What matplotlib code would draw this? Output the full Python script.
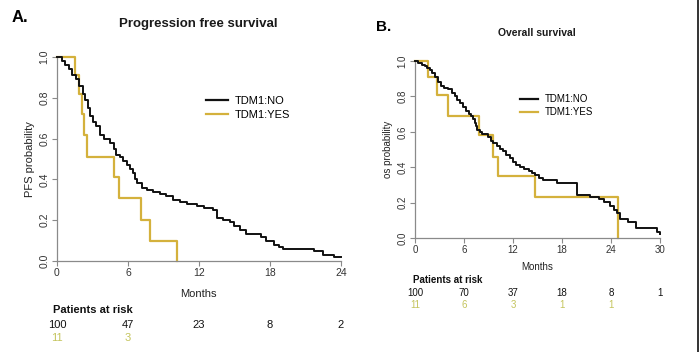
import matplotlib
matplotlib.use("Agg")
import matplotlib.pyplot as plt
import matplotlib.transforms as mtransforms
from matplotlib.lines import Line2D

plt.rcParams['font.family'] = ['Liberation Sans', 'DejaVu Sans']

BLACK = '#111111'
GOLD = '#d4b13c'
RISK_GOLD = '#c4c45c'
AXIS_GREY = '#8a8a8a'

# ---- Panel A: progression free survival ----
pfs_no_t = [0, 0.4, 0.7, 1.0, 1.3, 1.6, 1.9, 2.2, 2.4, 2.6, 2.8, 3.0, 3.3, 3.6, 4.0, 4.5, 4.8,
            5.0, 5.3, 5.6, 5.9, 6.2, 6.4, 6.6, 6.8, 7.2, 7.6, 8.1, 8.7, 9.2, 9.8, 10.4, 11.0,
            11.8, 12.4, 13.2, 13.5, 14.0, 14.6, 15.0, 15.5, 16.0, 17.2, 17.7, 18.3, 18.8, 19.1,
            21.7, 22.5, 23.4, 24.0]
pfs_no_s = [1.0, 0.98, 0.96, 0.94, 0.91, 0.89, 0.86, 0.82, 0.79, 0.75, 0.71, 0.68, 0.66, 0.62,
            0.60, 0.58, 0.55, 0.52, 0.51, 0.49, 0.47, 0.45, 0.43, 0.40, 0.38, 0.36, 0.35, 0.34,
            0.33, 0.32, 0.30, 0.29, 0.28, 0.27, 0.26, 0.25, 0.21, 0.20, 0.19, 0.17, 0.15, 0.13,
            0.12, 0.10, 0.08, 0.07, 0.06, 0.05, 0.03, 0.02, 0.02]
pfs_yes_t = [0, 1.52, 1.89, 2.1, 2.3, 2.54, 4.82, 5.2, 7.1, 7.86, 10.1]
pfs_yes_s = [1.0, 0.91, 0.82, 0.72, 0.62, 0.51, 0.41, 0.31, 0.20, 0.10, 0.0]
pfs_ticks = [0, 6, 12, 18, 24]
pfs_risk_no = ['100', '47', '23', '8', '2']
pfs_risk_yes = ['11', '3', '', '', '']

# ---- Panel B: overall survival ----
os_no_t = [0, 0.4, 0.8, 1.2, 1.5, 1.8, 2.1, 2.45, 2.85, 3.2, 3.5, 4.08, 4.5, 4.9, 5.2, 5.5,
           5.9, 6.3, 6.6, 6.9, 7.1, 7.35, 7.5, 7.63, 7.9, 8.16, 8.98, 9.3, 9.6, 10.0, 10.4,
           10.8, 11.2, 11.6, 12.0, 12.4, 12.85, 13.4, 13.9, 14.3, 14.7, 15.2, 15.7, 17.35,
           19.8, 21.4, 22.5, 23.1, 23.9, 24.4, 24.7, 25.1, 26.1, 27.1, 29.6, 30.0]
os_no_s = [1.0, 0.99, 0.98, 0.97, 0.96, 0.95, 0.93, 0.91, 0.88, 0.86, 0.85, 0.84, 0.82, 0.80,
           0.78, 0.76, 0.74, 0.72, 0.70, 0.69, 0.67, 0.65, 0.63, 0.61, 0.60, 0.59, 0.57, 0.55,
           0.535, 0.52, 0.505, 0.49, 0.47, 0.45, 0.43, 0.415, 0.40, 0.39, 0.38, 0.37, 0.355,
           0.34, 0.33, 0.31, 0.245, 0.233, 0.22, 0.205, 0.18, 0.16, 0.14, 0.11, 0.09, 0.055,
           0.036, 0.02]
os_yes_t = [0, 1.55, 2.65, 4.08, 7.83, 9.5, 10.2, 14.7, 24.9]
os_yes_s = [1.0, 0.91, 0.81, 0.69, 0.58, 0.46, 0.35, 0.23, 0.0]
os_ticks = [0, 6, 12, 18, 24, 30]
os_risk_no = ['100', '70', '37', '18', '8', '1']
os_risk_yes = ['11', '6', '3', '1', '1', '']

groups = ['TDM1:NO', 'TDM1:YES']
y_ticks = [0.0, 0.2, 0.4, 0.6, 0.8, 1.0]

fig = plt.figure(figsize=(7.0, 3.52), dpi=100)
W, H = 700, 352


def px_axes(x0, x1, ytop, ybot):
    return fig.add_axes([x0 / W, 1 - ybot / H, (x1 - x0) / W, (ybot - ytop) / H])


def km_panel(ax, t_no, s_no, t_yes, s_yes, xmax, ticks, fs):
    ax.step(t_yes, s_yes, where='post', color=GOLD, lw=1.6, clip_on=False, zorder=2)
    ax.step(t_no, s_no, where='post', color=BLACK, lw=1.4, clip_on=False, zorder=3)
    ax.set_xlim(0, xmax)
    ax.set_ylim(0, 1)
    for side in ['top', 'right']:
        ax.spines[side].set_visible(False)
    for side in ['left', 'bottom']:
        ax.spines[side].set_color(AXIS_GREY)
        ax.spines[side].set_linewidth(0.9)
    ax.set_xticks(ticks)
    ax.set_yticks(y_ticks)
    ax.set_yticklabels([f'{v:.1f}' for v in y_ticks], rotation=90, va='center')
    ax.tick_params(colors=AXIS_GREY, labelcolor='#333333', labelsize=fs, length=3.5, width=0.8)
    ax.tick_params(axis='x', pad=1.5)
    ax.tick_params(axis='y', pad=2)
    ax.patch.set_alpha(0)


def legend(ax, x, y, fs, ll):
    handles = [Line2D([0], [0], color=BLACK, lw=1.6), Line2D([0], [0], color=GOLD, lw=1.6)]
    ax.legend(handles, groups, loc='upper left', bbox_to_anchor=(x / W, 1 - y / H),
              bbox_transform=fig.transFigure, frameon=False, fontsize=fs, handlelength=ll,
              handletextpad=0.6, labelspacing=0.35, borderpad=0, borderaxespad=0)


def risk_table(ax, ticks, no, yes, x_lab, y_lab, y_no, y_yes, fs):
    tr = mtransforms.blended_transform_factory(ax.transData, fig.transFigure)
    fig.text(x_lab / W, 1 - y_lab / H, 'Patients at risk', fontsize=fs, fontweight='bold',
             ha='left', va='center', color='#111111')
    for x, a, b in zip(ticks, no, yes):
        ax.text(x, 1 - y_no / H, a, transform=tr, ha='center', va='center', fontsize=fs,
                color='#111111', clip_on=False)
        ax.text(x, 1 - y_yes / H, b, transform=tr, ha='center', va='center', fontsize=fs,
                color=RISK_GOLD, clip_on=False)


# panel A
axA = px_axes(57, 341, 57, 261)
km_panel(axA, pfs_no_t, pfs_no_s, pfs_yes_t, pfs_yes_s, 24, pfs_ticks, 7.5)
axA.set_ylabel('PFS probability', fontsize=8, color='#222222', labelpad=3)
fig.text(198 / W, 1 - 294 / H, 'Months', fontsize=8, ha='center', va='center', color='#222222')
fig.text(198 / W, 1 - 24 / H, 'Progression free survival', fontsize=9.5, fontweight='bold',
         ha='center', va='center', color='#1a1a1a')
fig.text(12 / W, 1 - 18 / H, 'A.', fontsize=12, fontweight='bold', ha='left', va='center')
legend(axA, 206, 96, 8, 2.0)
risk_table(axA, pfs_ticks, pfs_risk_no, pfs_risk_yes, 53, 310, 325, 338, 8)

# panel B
axB = px_axes(415, 660, 61, 238)
km_panel(axB, os_no_t, os_no_s, os_yes_t, os_yes_s, 30, os_ticks, 7)
axB.set_ylabel('os probability', fontsize=7, color='#222222', labelpad=3)
fig.text(537 / W, 1 - 267 / H, 'Months', fontsize=7, ha='center', va='center', color='#222222')
fig.text(537 / W, 1 - 33 / H, 'Overall survival', fontsize=7.5, fontweight='bold',
         ha='center', va='center', color='#1a1a1a')
fig.text(376 / W, 1 - 27 / H, 'B.', fontsize=11, fontweight='bold', ha='left', va='center')
legend(axB, 520, 94, 7, 1.9)
risk_table(axB, os_ticks, os_risk_no, os_risk_yes, 413, 280, 293, 305, 7)

# right-hand frame line
fig.add_artist(Line2D([698 / W, 698 / W], [0, 1], transform=fig.transFigure, color='#111111', lw=1.2))

fig.savefig('out.png', dpi=100)
